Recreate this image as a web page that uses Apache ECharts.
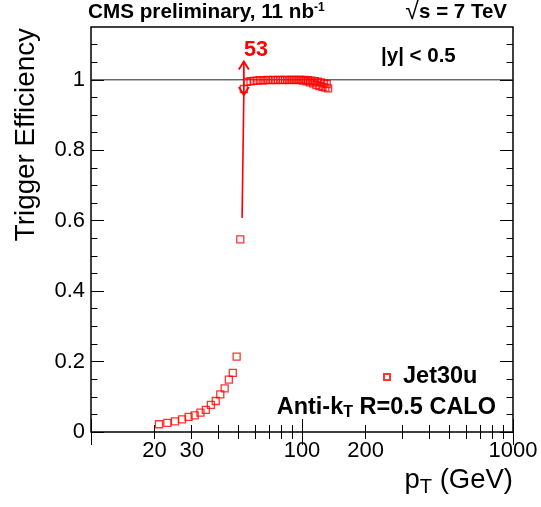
<!DOCTYPE html>
<html><head><meta charset="utf-8">
<script src="https://cdn.jsdelivr.net/npm/echarts@6/dist/echarts.min.js"></script>
<style>html,body{margin:0;padding:0;background:#fff}#c{width:541px;height:507px}</style>
</head><body><div id="c"></div>
<script>
// ---- data ----
const ptLow  = [21,23,25,27,29,31,33,35,37,39,41,43,45,47,49,51];
const effLow = [0.022,0.026,0.030,0.036,0.043,0.047,0.055,0.063,0.077,0.088,0.107,0.124,0.149,0.168,0.214,0.547];
const ptHigh  = [53,55,57,59,61,63,65,67,69,71,73,75,77,79,81,83,85,87,89,91,93,95,97,99,101,103,105,107,109,111,113,115,117,119,121,123,125,127,129,131,133];
const effHigh = [0.974,0.994,0.996,0.997,0.998,0.999,0.998,0.999,1.0,0.999,1.0,0.999,1.0,1.0,0.999,1.0,1.0,0.999,1.0,1.0,1.0,0.999,1.0,1.0,0.998,1.0,0.996,0.999,0.993,0.998,0.990,0.996,0.985,0.995,0.982,0.993,0.980,0.990,0.978,0.988,0.976];
const xTickLabels = [20,30,100,200,1000];
const xMajorTicks = [10,100,1000];
const xMinorTicks = [20,30,40,50,60,70,80,90,200,300,400,500,600,700,800,900];
const yTickLabels = [0,0.2,0.4,0.6,0.8,1];
const yMinorTicks = [0.05,0.1,0.15,0.25,0.3,0.35,0.45,0.5,0.55,0.65,0.7,0.75,0.85,0.9,0.95,1.05,1.1];
const turnOnLine = [[52,0.608],[53,0.957]];
const arrow53 = [53,0.957,1.052];
const refLevel = 1;

const FONT = 'Liberation Sans, Arial, Helvetica, sans-serif';
const pts = ptLow.concat(ptHigh).map((p,i)=>[p, effLow.concat(effHigh)[i]]);

const chart = echarts.init(document.getElementById('c'), null, {renderer:'canvas'});
function xAx(pos, ticks, len, labels){
  return {type:'log', logBase:10, min:10, max:1000, position:pos,
    axisLine:{show:false}, splitLine:{show:false},
    axisTick:{show:true, inside:true, length:len, customValues:ticks, lineStyle:{color:'#000', width:1}},
    axisLabel: labels ? {show:true, customValues:labels, fontSize:22, color:'#000', fontFamily:FONT, margin:8,
      formatter: v => String(Math.round(v))} : {show:false}};
}
function yAx(pos, ticks, len, labels){
  return {type:'value', min:0, max:1.15, position:pos,
    axisLine:{show:false}, splitLine:{show:false},
    axisTick:{show:true, inside:true, length:len, customValues:ticks, lineStyle:{color:'#000', width:1}},
    axisLabel: labels ? {show:true, customValues:labels, fontSize:22, color:'#000', fontFamily:FONT, margin:6,
      formatter: v => String(+(+v).toFixed(2))} : {show:false}};
}
chart.setOption({
  animation:false,
  grid:{left:91, right:28, top:27, bottom:75, show:true, borderColor:'#000', borderWidth:1.5, backgroundColor:'transparent'},
  xAxis:[xAx('bottom', xMajorTicks, 13, xTickLabels), xAx('bottom', xMinorTicks, 7), xAx('top', xMajorTicks, 13), xAx('top', xMinorTicks, 7)],
  yAxis:[yAx('left', yTickLabels, 13, yTickLabels), yAx('left', yMinorTicks, 6.5), yAx('right', yTickLabels, 13), yAx('right', yMinorTicks, 6.5)],
  legend:{data:['Jet30u'], left:378, top:360, icon:'rect', itemWidth:6, itemHeight:6,
    textStyle:{fontSize:23.5, fontWeight:'bold', color:'#000', fontFamily:FONT, padding:[0,0,0,8]}},
  series:[
    {type:'line', name:'ref', data:[[10,refLevel],[1000,refLevel]], symbol:'none', silent:true, z:1,
     lineStyle:{color:'#222', width:1}},
    {type:'line', name:'turnon', data:turnOnLine, symbol:'none', silent:true, z:3,
     lineStyle:{color:'#ff0000', width:1.6}},
    {type:'custom', name:'arrow', data:[arrow53], z:4, silent:true,
     renderItem:(params, api)=>{
       const a = api.coord([api.value(0), api.value(1)]);
       const b = api.coord([api.value(0), api.value(2)]);
       const s=5, h=8, st={stroke:'#ff0000', lineWidth:1.8, fill:null};
       return {type:'group', children:[
         {type:'line', shape:{x1:a[0],y1:a[1],x2:b[0],y2:b[1]}, style:st},
         {type:'polyline', shape:{points:[[b[0]-s,b[1]+h],[b[0],b[1]],[b[0]+s,b[1]+h]]}, style:st},
         {type:'polyline', shape:{points:[[a[0]-s,a[1]-h],[a[0],a[1]],[a[0]+s,a[1]-h]]}, style:st}
       ]};
     }},
    {type:'scatter', name:'Jet30u', data:pts, symbol:'rect', symbolSize:7, z:5,
     itemStyle:{color:'rgba(255,255,255,0)', borderColor:'#ff0000', borderWidth:1.3}}
  ],
  graphic:[
    {type:'text', left:88, top:2, style:{text:'{a|CMS preliminary, 11 nb}{s|-1}', rich:{
      a:{fontSize:20.7, fontWeight:'bold', fontFamily:FONT, fill:'#000'},
      s:{fontSize:12, fontWeight:'bold', fontFamily:FONT, fill:'#000', verticalAlign:'top', padding:[0,0,8,0]}}}},
    {type:'text', right:34, top:0, style:{text:'{r|√}{a|s = 7 TeV}', rich:{
      r:{fontSize:25, fontFamily:FONT, fill:'#000'},
      a:{fontSize:20.5, fontWeight:'bold', fontFamily:FONT, fill:'#000'}}}},
    {type:'text', left:381, top:46, style:{text:'|y| < 0.5', fontSize:20.5, fontWeight:'bold', fontFamily:FONT, fill:'#000'}},
    {type:'text', left:244, top:39, style:{text:'53', fontSize:21.5, fontWeight:'bold', fontFamily:FONT, fill:'#ff0000'}},
    {type:'text', right:45, top:396, style:{text:'{a|Anti-k}{s|T}{a| R=0.5 CALO}', rich:{
      a:{fontSize:23.5, fontWeight:'bold', fontFamily:FONT, fill:'#000'},
      s:{fontSize:16, fontWeight:'bold', fontFamily:FONT, fill:'#000', padding:[9,0,0,0]}}}},
    {type:'text', x:26, y:28, rotation:Math.PI/2, style:{text:'Trigger Efficiency', fontSize:27.8, fontFamily:FONT, fill:'#000', align:'right', verticalAlign:'middle'}},
    {type:'text', right:28, top:466, style:{text:'{a|p}{s|T}{a| (GeV)}', rich:{
      a:{fontSize:27.5, fontFamily:FONT, fill:'#000'},
      s:{fontSize:20, fontFamily:FONT, fill:'#000', padding:[14,0,0,0]}}}}
  ]
});
</script></body></html>
